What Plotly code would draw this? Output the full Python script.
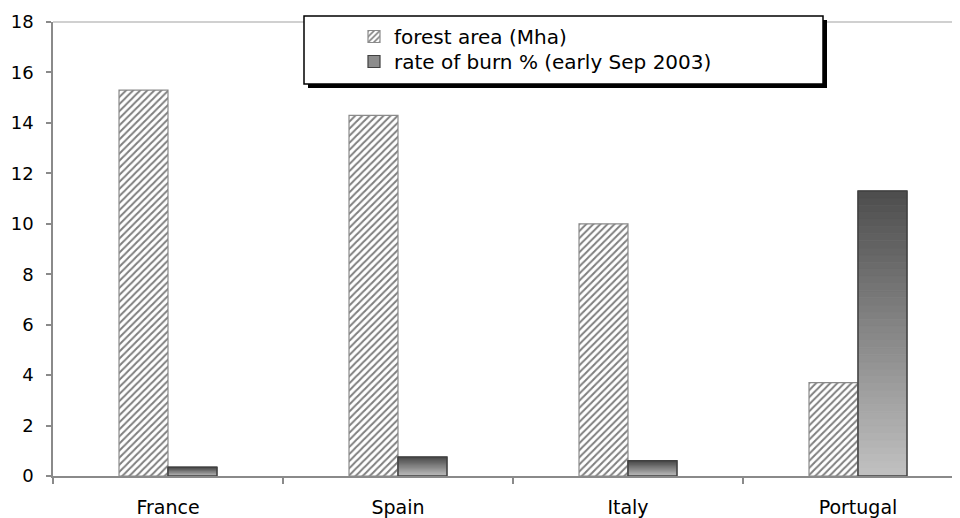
import plotly.graph_objects as go

countries = ["France", "Spain", "Italy", "Portugal"]
forest_area = [15.3, 14.3, 10.0, 3.7]
burn_rate = [0.35, 0.75, 0.6, 11.3]
series_names = ["forest area (Mha)", "rate of burn % (early Sep 2003)"]
y_ticks = [0, 2, 4, 6, 8, 10, 12, 14, 16, 18]

# page body adds an 8px offset; compensate so the plot area sits at
# screen x 53..960, y 22..476
OFF = 8
W, H = 960 - OFF, 518 - OFF
PL, PR, PT, PB = 53, 960, 22, 476   # plot area in screen pixels
ML, MR, MT, MB = PL - OFF, 0, PT - OFF, 518 - PB
pw, ph = PR - PL, PB - PT

BW = 0.213
N = 40
FONT = "DejaVu Sans, Liberation Sans, Arial, sans-serif"


def px_x(x):
    return (x - PL) / pw


def px_y(y):
    return (PB - y) / ph


fig = go.Figure()

fig.add_trace(go.Bar(
    x=countries, y=forest_area, name=series_names[0],
    width=BW, offset=-BW,
    marker=dict(color="white",
                pattern=dict(shape="/", fgcolor="black", bgcolor="white", size=5, solidity=0.4),
                line=dict(color="#8a8a8a", width=1.2)),
    showlegend=True, legend="legend",
))

# legend entry for burn series
fig.add_trace(go.Bar(
    x=countries, y=[None] * len(countries), name=series_names[1],
    marker=dict(color="#8c8c8c", line=dict(color="#404040", width=1.2)),
    showlegend=True, legend="legend2",
))

# gradient fill built from the burn values
top_g, bot_g = 78, 192
for i in range(N):
    g = round(bot_g - (bot_g - top_g) * i / (N - 1))
    c = f"rgb({g},{g},{g})"
    fig.add_trace(go.Bar(
        x=countries,
        y=[v / N for v in burn_rate],
        base=[v * i / N for v in burn_rate],
        width=BW, offset=0,
        marker=dict(color=c, line=dict(color=c, width=0.8)),
        showlegend=False, hoverinfo="skip",
    ))

fig.add_trace(go.Bar(
    x=countries, y=burn_rate, name=series_names[1],
    width=BW, offset=0,
    marker=dict(color="rgba(0,0,0,0)", line=dict(color="#404040", width=1.5)),
    showlegend=False,
))

bx0, bx1, by0, by1 = 304, 823, 16, 84
shapes = [
    dict(type="line", xref="paper", yref="paper", x0=0, x1=1, y0=1, y1=1,
         line=dict(color="#c0c0c0", width=1.5), layer="below"),
    dict(type="rect", xref="paper", yref="paper",
         x0=px_x(bx0 + 4), x1=px_x(bx1 + 4), y0=px_y(by1 + 4), y1=px_y(by0 + 4),
         fillcolor="black", line=dict(width=0), layer="above"),
    dict(type="rect", xref="paper", yref="paper",
         x0=px_x(bx0), x1=px_x(bx1), y0=px_y(by1), y1=px_y(by0),
         fillcolor="white", line=dict(color="black", width=1.5), layer="above"),
]

leg_common = dict(
    xref="paper", yref="paper", xanchor="left", yanchor="top",
    bgcolor="rgba(0,0,0,0)", borderwidth=0,
    font=dict(family=FONT, size=20, color="black"),
    itemwidth=30, tracegroupgap=0,
)

fig.update_layout(
    width=W, height=H,
    margin=dict(l=ML, r=MR, t=MT, b=MB, pad=0, autoexpand=False),
    paper_bgcolor="white", plot_bgcolor="white",
    barmode="overlay",
    font=dict(family=FONT, size=17, color="black"),
    shapes=shapes,
    legend=dict(x=px_x(354), y=px_y(17), **leg_common),
    legend2=dict(x=px_x(354), y=px_y(42), **leg_common),
    xaxis=dict(
        type="category", categoryorder="array", categoryarray=countries,
        range=[-0.5, -0.5 + pw / 230.0],
        showline=True, linecolor="#8a8a8a", linewidth=1.5,
        ticks="outside", tickson="boundaries", ticklen=6, tickcolor="#8a8a8a", tickwidth=1.5,
        showgrid=False, zeroline=False, tickangle=0,
        tickfont=dict(size=19), ticklabelstandoff=13,
    ),
    yaxis=dict(
        range=[0, 18], tickvals=y_ticks,
        showline=True, linecolor="#8a8a8a", linewidth=1.5,
        ticks="outside", ticklen=5, tickcolor="#8a8a8a", tickwidth=1.5,
        showgrid=False, zeroline=False,
        tickfont=dict(size=18), ticklabelstandoff=9,
    ),
)

fig.write_html("out.html")
